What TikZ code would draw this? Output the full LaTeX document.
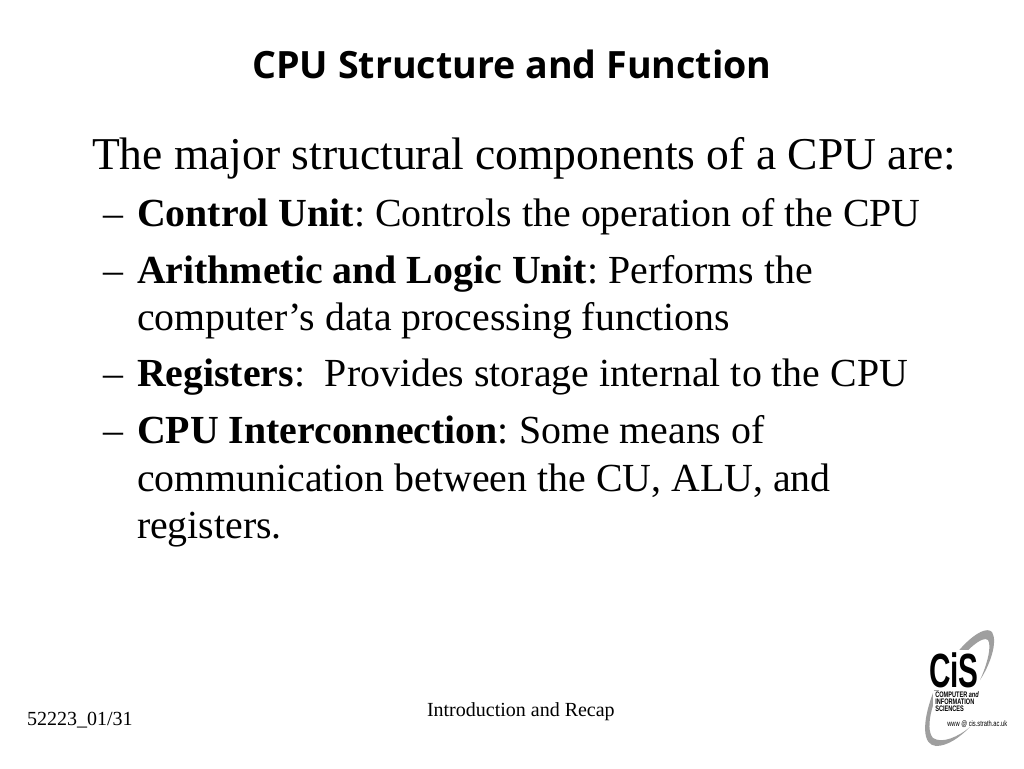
\documentclass[tikz,border=0pt]{standalone}
\usepackage{fontspec}
\setmainfont{Liberation Serif}
\newfontfamily\titlefont{Open Sans}
\newfontfamily\logofont{Liberation Sans}[FakeStretch=0.62]
\newfontfamily\logonarrow{Liberation Sans}[FakeStretch=0.7]
\newfontfamily\logourl{Liberation Sans}[FakeStretch=0.72]
\begin{document}
\frenchspacing
\begin{tikzpicture}[x=0.75pt,y=-0.75pt,
  line/.style={anchor=base west,inner sep=0pt,outer sep=0pt},
  lead/.style={line,font=\fontsize{34.17}{34.17}\selectfont},
  body/.style={line,font=\fontsize{29.87}{29.87}\selectfont},
  foot/.style={line,font=\fontsize{15}{15}\selectfont},
  cisbig/.style={inner sep=0pt,anchor=base,font=\logofont\bfseries\fontsize{36}{36}\selectfont},
  cissmall/.style={inner sep=0pt,anchor=base west,font=\logonarrow\bfseries\fontsize{6}{6}\selectfont},
  cisurl/.style={inner sep=0pt,anchor=base west,font=\logourl\fontsize{6}{6}\selectfont}]
\useasboundingbox (0,0) rectangle (1024,768);
\fill[white] (0,0) rectangle (1024,768);
\node[anchor=base,inner sep=0pt,font=\titlefont\bfseries\fontsize{28.2}{28.2}\selectfont] (title) at (512,78) {CPU Structure and Function};
\node[lead] (lead) at (92,169) {The major structural components of a CPU are:};
\node[body] (d1) at (103,226) {–};
\node[body] (l1) at (137,226) {\textbf{Control Unit}: Controls the operation of the CPU};
\node[body] (d2) at (103,283) {–};
\node[body] (l2) at (137,283) {\textbf{Arithmetic and Logic Unit}: Performs the};
\node[body] (l2b) at (137,330) {computer’s data processing functions};
\node[body] (d3) at (103,386) {–};
\node[body] (l3) at (137,386) {\textbf{Registers}:\ \ Provides storage internal to the CPU};
\node[body] (d4) at (103,443) {–};
\node[body] (l4) at (137,443) {\textbf{CPU Interconnection}: Some means of};
\node[body] (l4b) at (137,491) {communication between the CU, ALU, and};
\node[body] (l4c) at (137,538) {registers.};
\node[foot] (f1) at (27,725) {52223\_01/31};
\node[foot] (f2) at (427,716) {Introduction and Recap};
% logo
\fill[gray!75]
  (992,632) .. controls (982,622) and (948,655) .. (933,693)
  .. controls (922,722) and (922,745) .. (936,746)
  .. controls (948,746) and (960,737) .. (970,727)
  .. controls (958,737) and (942,744) .. (933,738)
  .. controls (924,728) and (933,695) .. (950,672)
  .. controls (965,650) and (983,635) .. (988,640)
  .. controls (992,646) and (987,665) .. (980,680)
  .. controls (990,665) and (998,642) .. (992,632) -- cycle;
\fill[white] (930,650) rectangle (978,690);
\fill[white] (933,691) rectangle (977,712);
\node[cisbig] (cis) at (954,687) {CiS};
\node[cissmall] (cist1) at (935,697) {COMPUTER \textit{and}};
\node[cissmall] (cist2) at (935,704) {INFORMATION};
\node[cissmall] (cist3) at (935,711) {SCIENCES};
\node[cisurl] (cisu) at (947,726) {www @ cis.strath.ac.uk};
\end{tikzpicture}
\end{document}
